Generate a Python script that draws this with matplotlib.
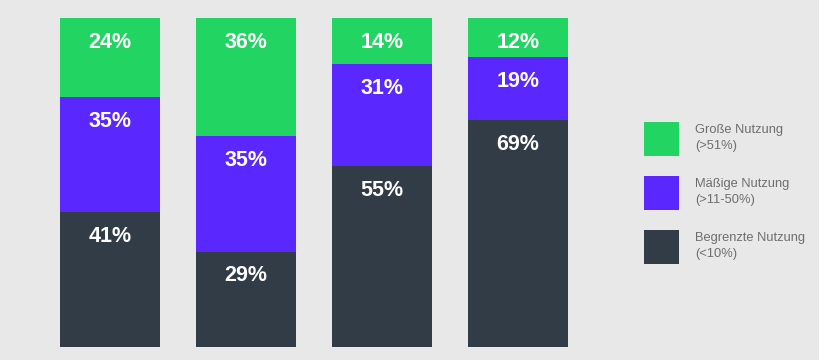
import matplotlib.pyplot as plt
import numpy as np

# shares per bar (bottom to top: begrenzt, mäßig, groß)
begrenzt = [41, 29, 55, 69]
maessig = [35, 35, 31, 19]
gross = [24, 36, 14, 12]
series_labels = ['Begrenzte Nutzung\n(<10%)', 'Mäßige Nutzung\n(>11-50%)', 'Große Nutzung\n(>51%)']
series_colors = ['#323c46', '#5a28ff', '#22d462']

bg = '#e8e8e8'
fig = plt.figure(figsize=(8.2, 3.6), dpi=100, facecolor=bg)
ax = fig.add_axes([60 / 820, 13 / 360, 508 / 820, 329 / 360])
ax.set_facecolor(bg)

ind = np.arange(len(begrenzt))
width = 100 / 136
bottom = np.zeros(len(ind))
handles = []
for vals, color, label in zip([begrenzt, maessig, gross], series_colors, series_labels):
    bars = ax.bar(ind, vals, width, bottom=bottom, color=color, label=label)
    handles.append(bars)
    for i, v in enumerate(vals):
        top = bottom[i] + v
        ax.annotate(f'{v}%', (ind[i], top), xytext=(0, -17.5), textcoords='offset points',
                    ha='center', va='center', color='white', fontsize=15.5,
                    fontweight='bold', family='Liberation Sans')
    bottom += np.array(vals)

ax.set_xlim(-width / 2, len(ind) - 1 + width / 2)
ax.set_ylim(0, 100)
ax.axis('off')

leg = fig.legend(handles[::-1], series_labels[::-1], loc='upper left',
                 bbox_to_anchor=(641 / 820, 1 - 119 / 360), frameon=False,
                 prop={'family': 'Liberation Sans', 'size': 9.3}, labelcolor='#6e6e6e',
                 handlelength=2.75, handleheight=3.7, handletextpad=1.25,
                 labelspacing=1.55, borderpad=0.2, borderaxespad=0)
for t in leg.get_texts():
    t.set_linespacing(1.45)

plt.savefig('out.png', dpi=100, facecolor=bg)
